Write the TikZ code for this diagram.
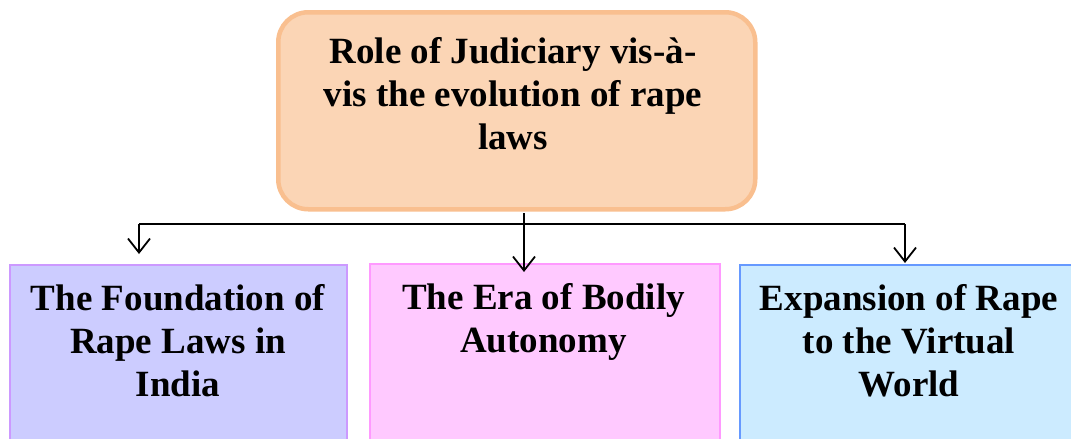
\documentclass[tikz,border=0pt]{standalone}
\usepackage{fontspec}
\setmainfont{Liberation Serif}
\usetikzlibrary{arrows.meta,calc}
\definecolor{topfill}{HTML}{FBD5B5}
\definecolor{topline}{HTML}{F9BF8F}
\definecolor{afill}{HTML}{CCCCFF}
\definecolor{aline}{HTML}{CC99FF}
\definecolor{bfill}{HTML}{FFC9FF}
\definecolor{bline}{HTML}{FF99FF}
\definecolor{cfill}{HTML}{CCEBFF}
\definecolor{cline}{HTML}{6699FF}
\tikzset{
  boxtext/.style={font=\fontsize{37}{43}\selectfont\bfseries, align=center, inner sep=0pt},
  topbox/.style={draw=topline, fill=topfill, line width=4.5pt, rounded corners=30pt, anchor=north west, inner sep=0pt},
  subbox/.style={line width=2pt, anchor=north west, inner sep=0pt},
  conn/.style={line width=2pt, draw=black},
  arr/.style={conn, -{Straight Barb[length=14pt,width=22pt,line width=1.8pt]}}
}
\begin{document}
\begin{tikzpicture}[x=1pt,y=-1pt]
\useasboundingbox (0,0) rectangle (1071,439);
\node[topbox, minimum width=477pt, minimum height=197pt] (top) at (276,10) {};
\node[boxtext, anchor=north] (toptext) at (513,37) {Role of Judiciary vis-à-\\vis the evolution of rape\\laws};
\node[subbox, draw=aline, fill=afill, minimum width=337pt, minimum height=200pt] (a) at (9,264) {};
\node[subbox, draw=bline, fill=bfill, minimum width=350pt, minimum height=200pt] (b) at (369,263) {};
\node[subbox, draw=cline, fill=cfill, minimum width=340pt, minimum height=200pt] (c) at (739,264) {};
\node[boxtext, anchor=north] (atext) at (178,284) {The Foundation of\\Rape Laws in\\India};
\node[boxtext, anchor=north] (btext) at (543.5,283) {The Era of Bodily\\Autonomy};
\node[boxtext, anchor=north] (ctext) at (909,284) {Expansion of Rape\\to the Virtual\\World};
\coordinate (s0) at (524,213);
\coordinate (jl) at (139,224);
\coordinate (jr) at (905,224);
\draw[arr] (s0) -- ($(b.north -| s0)+(0,9)$);
\draw[conn] (jl) -- (jr);
\draw[arr] (jl) -- ($(a.north -| jl)+(0,-10)$);
\draw[arr] (jr) -- ($(c.north -| jr)+(0,-1)$);
\end{tikzpicture}
\end{document}
